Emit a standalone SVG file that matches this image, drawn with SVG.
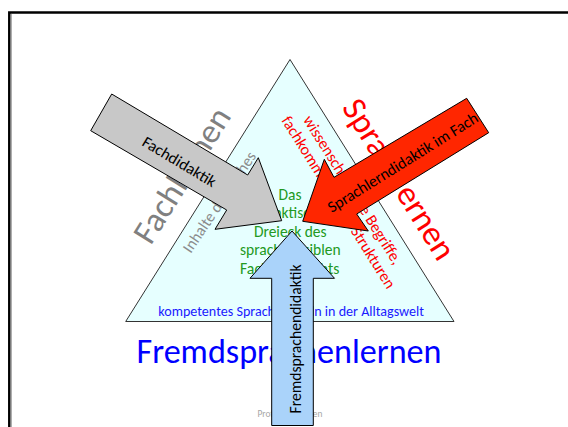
<svg xmlns="http://www.w3.org/2000/svg" width="568" height="427" viewBox="0 0 568 427">
<style>
text{font-family:Calibri,Carlito,Lato,"Liberation Sans",sans-serif;}
.big{font-size:34px;text-anchor:middle;}
.in{font-size:16px;text-anchor:middle;}
.gr{font-size:15.5px;text-anchor:middle;fill:#229922;}
.arr{stroke:#000;stroke-width:1;stroke-linejoin:miter;}
.lbl{font-size:16px;text-anchor:middle;fill:#000;}
</style>
<rect x="0" y="0" width="568" height="427" fill="#fff"/>
<g id="frame">
<rect x="9.3" y="12.5" width="700" height="600" fill="none" stroke="#000" stroke-width="2.5"/>
<line x1="11.3" y1="14" x2="11.3" y2="427" stroke="#9a9a9a" stroke-width="1"/>
</g>
<g id="triangle">
<polygon points="290,59.5 454,321.5 125.7,321.5" fill="#e6ffff" stroke="#333" stroke-width="1"/>
</g>
<g id="outer-labels">
<text class="big" fill="#808080" textLength="153" lengthAdjust="spacingAndGlyphs" transform="translate(191.4,181.2) rotate(-58)">Fachlernen</text>
<text class="big" fill="#ff0000" textLength="183" lengthAdjust="spacingAndGlyphs" transform="translate(389.7,185) rotate(58)">Sprachlernen</text>
<text class="big" fill="#0000ff" x="289" y="363" textLength="305" lengthAdjust="spacingAndGlyphs">Fremdsprachenlernen</text>
</g>
<g id="inner-labels">
<text class="in" fill="#8c8c8c" textLength="118" lengthAdjust="spacingAndGlyphs" transform="translate(223.8,205) rotate(-56)">Inhalte des Faches</text>
<text class="in" fill="#ff0000" textLength="172" lengthAdjust="spacingAndGlyphs" transform="translate(348.3,192.7) rotate(58)">wissenschaftliche Begriffe,</text>
<text class="in" fill="#ff0000" textLength="200" lengthAdjust="spacingAndGlyphs" transform="translate(334.1,205.1) rotate(58)">fachkommunikative Strukturen</text>
<text class="gr" x="290" y="199.5" textLength="23" lengthAdjust="spacingAndGlyphs">Das</text>
<text class="gr" x="290" y="218" textLength="71.5" lengthAdjust="spacingAndGlyphs">didaktische</text>
<text class="gr" x="290.3" y="236.7" textLength="72.7" lengthAdjust="spacingAndGlyphs">Dreieck des</text>
<text class="gr" x="290.3" y="255.3" textLength="100.7" lengthAdjust="spacingAndGlyphs">sprachsensiblen</text>
<text class="gr" x="289.7" y="274" textLength="99.3" lengthAdjust="spacingAndGlyphs">Fachunterrichts</text>
<text x="291.2" y="316" font-size="14" text-anchor="middle" fill="#1a1aff" textLength="265.7" lengthAdjust="spacingAndGlyphs">kompetentes Sprachhandeln in der Alltagswelt</text>
<text x="290" y="417.3" font-size="10" text-anchor="middle" fill="#a6a6a6" textLength="65" lengthAdjust="spacingAndGlyphs">Prof. Josef Leisen</text>
</g>
<g id="arrows">
<g id="arrow-fachdidaktik">
<polygon class="arr" fill="#c8c8c8" points="111.7,94 247.7,175 258.3,157.7 281.7,220.7 215,229.3 226.7,210 90.7,130.7"/>
<text class="lbl" textLength="83" lengthAdjust="spacingAndGlyphs" transform="translate(176.6,166.3) rotate(31)">Fachdidaktik</text>
</g>
<g id="arrow-sprachlerndidaktik">
<polygon class="arr" fill="#ff2600" points="466.7,98.3 488.7,132.7 356.7,214 368.3,231 302.7,221.3 324.3,159.3 334,177.3"/>
<text class="lbl" textLength="174" lengthAdjust="spacingAndGlyphs" transform="translate(405.6,167) rotate(-32)">Sprachlerndidaktik im Fach</text>
</g>
<g id="arrow-fremdsprachendidaktik">
<polygon class="arr" fill="#aad3fa" points="292,231 334.5,278.3 313.3,278.3 313.3,425.5 271.7,425.5 271.7,278.3 250,278.3"/>
<text class="lbl" textLength="149" lengthAdjust="spacingAndGlyphs" transform="translate(300.5,339) rotate(-90)">Fremdsprachendidaktik</text>
</g>
</g>
</svg>
